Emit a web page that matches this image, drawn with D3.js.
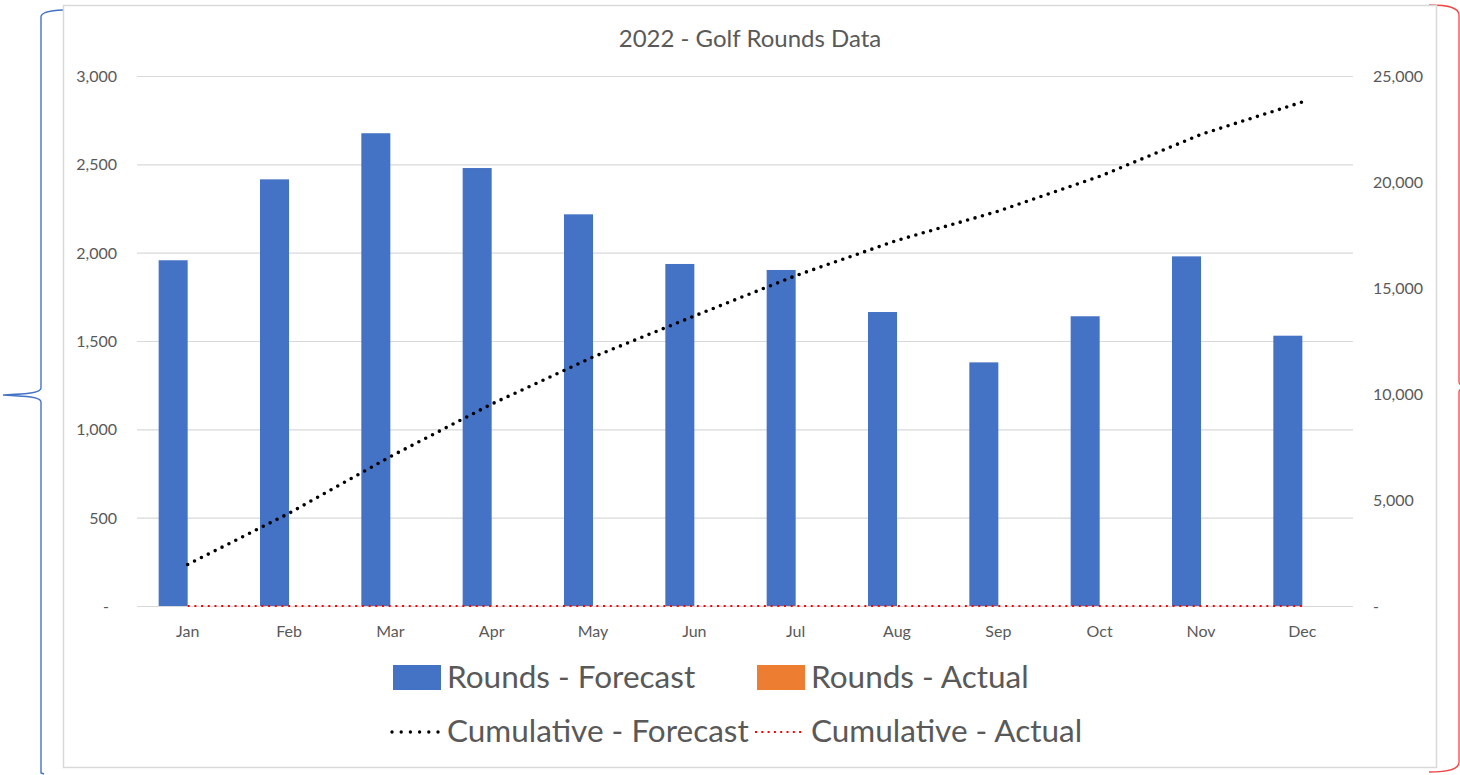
<!DOCTYPE html>
<html>
<head>
<meta charset="utf-8">
<script src="https://cdn.jsdelivr.net/npm/d3@7"></script>
<style>
  html, body { margin: 0; padding: 0; background: #ffffff; }
  svg { display: block; font-family: Lato, "Open Sans", sans-serif; }
</style>
</head>
<body>
<svg id="chart" width="1460" height="775"></svg>
<script>
// ---- data ----
const months = ["Jan","Feb","Mar","Apr","May","Jun","Jul","Aug","Sep","Oct","Nov","Dec"];
const roundsForecast = [1957, 2415, 2676, 2479, 2217, 1936, 1902, 1664, 1379, 1640, 1979, 1530];
const roundsActual = [0, 0, 0, 0, 0, 0, 0, 0, 0, 0, 0, 0];
const cumulativeForecast = [1957, 4372, 7048, 9527, 11744, 13680, 15582, 17246, 18625, 20265, 22244, 23774];
const cumulativeActual = [0, 0, 0, 0, 0, 0, 0, 0, 0, 0, 0, 0];
const leftTicks = [0, 500, 1000, 1500, 2000, 2500, 3000];
const rightTicks = [0, 5000, 10000, 15000, 20000, 25000];
const barSeries = ["Rounds - Forecast", "Rounds - Actual"];
const lineSeries = ["Cumulative - Forecast", "Cumulative - Actual"];
const title = "2022 - Golf Rounds Data";

// ---- layout ----
const svg = d3.select("#chart");
const plot = { left: 137, right: 1353, top: 76, bottom: 606 };
const textColor = "#595959";
const gridColor = "#d9d9d9";
const blue = "#4472c4", orange = "#ed7d31";

// braces
svg.append("path")
  .attr("d", "M63,10 C50,10.5 41,12 41,17 L41,388 C41,393.5 22,394 3,395 C22,396 41,396.5 41,402 L41,773 L44,774")
  .attr("fill", "none").attr("stroke", blue).attr("stroke-width", 1.4);
svg.append("path")
  .attr("d", "M1429,5 C1450,5 1459,8 1459,15 L1459,382 C1459,386 1464,387 1472,387 C1464,387 1459,388 1459,392 L1459,762 C1459,769 1450,772 1429,772")
  .attr("fill", "none").attr("stroke", "#f04848").attr("stroke-width", 1.3);

// chart frame
svg.append("rect")
  .attr("x", 63.5).attr("y", 5.5).attr("width", 1373).attr("height", 762)
  .attr("fill", "#ffffff").attr("stroke", gridColor).attr("stroke-width", 1.5);

// title
svg.append("text")
  .attr("x", 750).attr("y", 37)
  .attr("text-anchor", "middle").attr("dominant-baseline", "central")
  .attr("fill", textColor).attr("font-size", 24)
  .text(title);

// scales
const x0 = d3.scaleBand().domain(months).range([plot.left, plot.right]).padding(0);
const groupPad = (x0.bandwidth() - 58) / 2;
const x1 = d3.scaleBand().domain(barSeries).range([groupPad, x0.bandwidth() - groupPad]).padding(0);
const yL = d3.scaleLinear().domain([0, 3000]).range([plot.bottom, plot.top]);
const yR = d3.scaleLinear().domain([0, 25000]).range([plot.bottom, plot.top]);

// left axis + gridlines
const fmt = d3.format(",");
const leftAxis = d3.axisLeft(yL).tickValues(leftTicks)
  .tickSize(-(plot.right - plot.left)).tickPadding(20)
  .tickFormat(v => v === 0 ? "-\u2002" : fmt(v));
const gL = svg.append("g").attr("transform", `translate(${plot.left},0)`).call(leftAxis);
gL.select(".domain").remove();
gL.selectAll(".tick line").attr("stroke", gridColor).attr("stroke-width", 1.2);
gL.selectAll(".tick text").attr("fill", textColor).attr("font-size", 16)
  .attr("font-family", "Lato, sans-serif").attr("dy", "0.35em").style("white-space", "pre");

// right axis
const rightAxis = d3.axisRight(yR).tickValues(rightTicks)
  .tickSize(0).tickPadding(20)
  .tickFormat(v => v === 0 ? "-" : fmt(v));
const gR = svg.append("g").attr("transform", `translate(${plot.right},0)`).call(rightAxis);
gR.select(".domain").remove();
gR.selectAll(".tick text").attr("fill", textColor).attr("font-size", 16)
  .attr("font-family", "Lato, sans-serif").attr("dy", "0.35em");

// bottom axis
const bottomAxis = d3.axisBottom(x0).tickSize(0).tickPadding(0);
const gB = svg.append("g").attr("transform", `translate(0,${plot.bottom})`).call(bottomAxis);
gB.select(".domain").remove();
gB.selectAll(".tick text").attr("fill", textColor).attr("font-size", 16)
  .attr("font-family", "Lato, sans-serif").attr("y", 25).attr("dy", "0.35em");

// bars
const barData = months.map((m, i) => ({ m, vals: [roundsForecast[i], roundsActual[i]] }));
const groups = svg.append("g").selectAll("g").data(barData).join("g")
  .attr("transform", d => `translate(${x0(d.m)},0)`);
groups.selectAll("rect").data(d => d.vals.map((v, k) => ({ s: barSeries[k], v })))
  .join("rect")
  .attr("x", d => x1(d.s))
  .attr("width", x1.bandwidth())
  .attr("y", d => yL(d.v))
  .attr("height", d => yL(0) - yL(d.v))
  .attr("fill", (d, k) => k === 0 ? blue : orange);

// lines
const cx = m => x0(m) + x0.bandwidth() / 2;
const line = d3.line().x(d => cx(d.m)).y(d => yR(d.v));
svg.append("path")
  .datum(months.map((m, i) => ({ m, v: cumulativeActual[i] })))
  .attr("d", line).attr("fill", "none")
  .attr("stroke", "#ff0000").attr("stroke-width", 2.2)
  .attr("stroke-dasharray", "2 4.7");
svg.append("path")
  .datum(months.map((m, i) => ({ m, v: cumulativeForecast[i] })))
  .attr("d", line).attr("fill", "none")
  .attr("stroke", "#000000").attr("stroke-width", 3.6)
  .attr("stroke-linecap", "round")
  .attr("stroke-dasharray", "0 7.7");

// legend
const legendFont = 31.5;
const lg = svg.append("g").attr("font-size", legendFont).attr("fill", textColor);
const barLegendX = [393, 757];
barSeries.forEach((s, i) => {
  lg.append("rect").attr("x", barLegendX[i]).attr("y", 665).attr("width", 48).attr("height", 25)
    .attr("fill", i === 0 ? blue : orange);
  lg.append("text").attr("x", barLegendX[i] + 54).attr("y", 676)
    .attr("dominant-baseline", "central").text(s);
});
const lineLegendX = [391, 755];
lineSeries.forEach((s, i) => {
  if (i === 0) {
    lg.append("line").attr("x1", lineLegendX[i] + 1).attr("x2", lineLegendX[i] + 48)
      .attr("y1", 732).attr("y2", 732)
      .attr("stroke", "#000").attr("stroke-width", 3.4).attr("stroke-linecap", "round")
      .attr("stroke-dasharray", "0 9.2");
  } else {
    lg.append("line").attr("x1", lineLegendX[i]).attr("x2", lineLegendX[i] + 50)
      .attr("y1", 732).attr("y2", 732)
      .attr("stroke", "#ff0000").attr("stroke-width", 2)
      .attr("stroke-dasharray", "2 4.3");
  }
  lg.append("text").attr("x", (i === 0 ? 447 : 811)).attr("y", 730)
    .attr("dominant-baseline", "central").text(s);
});
</script>
</body>
</html>
